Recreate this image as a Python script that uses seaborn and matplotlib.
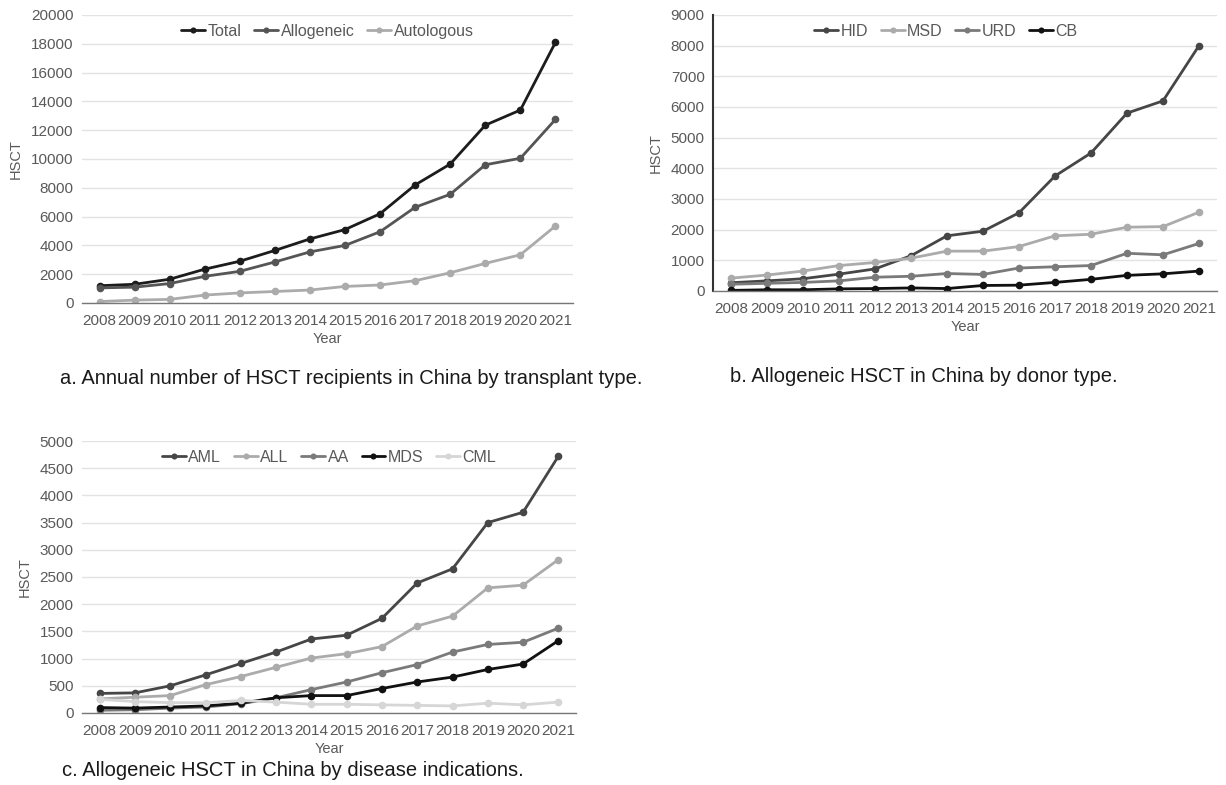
import numpy as np
import pandas as pd
import matplotlib
matplotlib.use("Agg")
import matplotlib.pyplot as plt
from matplotlib.ticker import FixedLocator
import seaborn as sns

years = list(range(2008, 2022))

# a. transplant type
total = [1200, 1300, 1650, 2350, 2900, 3650, 4450, 5100, 6200, 8200, 9650, 12350, 13400, 18100]
allogeneic = [1050, 1100, 1350, 1850, 2200, 2850, 3550, 4000, 4950, 6650, 7550, 9600, 10050, 12750]
autologous = [100, 200, 250, 550, 700, 800, 900, 1150, 1250, 1550, 2100, 2750, 3350, 5350]

# b. donor type
hid = [270, 330, 400, 550, 720, 1150, 1800, 1950, 2550, 3750, 4500, 5800, 6200, 8000]
msd = [420, 520, 650, 830, 930, 1070, 1300, 1300, 1450, 1800, 1850, 2080, 2100, 2570]
urd = [220, 250, 280, 330, 450, 480, 570, 540, 750, 790, 830, 1230, 1180, 1550]
cb = [20, 40, 40, 70, 80, 100, 80, 180, 190, 280, 380, 510, 560, 650]

# c. disease indications
aml = [360, 370, 500, 700, 910, 1120, 1360, 1430, 1740, 2390, 2650, 3500, 3690, 4720]
all_ = [260, 290, 320, 520, 670, 840, 1010, 1090, 1220, 1600, 1780, 2300, 2350, 2820]
aa = [50, 60, 90, 110, 170, 280, 430, 570, 740, 890, 1120, 1260, 1300, 1560]
mds = [100, 90, 110, 130, 180, 280, 320, 320, 450, 570, 660, 800, 900, 1330]
cml = [250, 210, 190, 190, 230, 200, 160, 160, 150, 140, 130, 180, 150, 200]

sns.set_theme(style="white")
plt.rcParams["font.family"] = ["Liberation Sans", "DejaVu Sans"]

TXT = "#595959"


def long_frame(series):
    rows = []
    for name, vals in series.items():
        for y, v in zip(years, vals):
            rows.append({"Year": y, "HSCT": v, "Series": name})
    return pd.DataFrame(rows)


def draw(ax, series, colors, ymax, ystep, left_spine=False, fs=11, leg_x=0.5):
    df = long_frame(series)
    names = list(series.keys())
    sns.lineplot(data=df, x="Year", y="HSCT", hue="Series", hue_order=names,
                 palette=dict(zip(names, colors)), marker="o", markersize=5.5,
                 markeredgewidth=0, linewidth=2, ax=ax)
    ax.set_xlim(2007.5, 2021.5)
    ax.set_ylim(0, ymax)
    ax.set_xticks(years)
    ax.set_xticklabels([str(y) for y in years])
    ax.xaxis.set_minor_locator(FixedLocator(np.arange(2007.5, 2022, 1.0)))
    ax.tick_params(axis="x", which="major", length=0, pad=8, labelsize=fs, labelcolor=TXT)
    ax.tick_params(axis="x", which="minor", length=5, width=1, color="#777777", direction="out")
    ax.set_yticks(np.arange(0, ymax + 1, ystep))
    ax.tick_params(axis="y", length=0, pad=6, labelsize=fs, labelcolor=TXT)
    ax.grid(axis="y", color="#e3e3e3", linewidth=1)
    ax.set_axisbelow(True)
    for s in ["top", "right"]:
        ax.spines[s].set_visible(False)
    ax.spines["left"].set_visible(left_spine)
    if left_spine:
        ax.spines["left"].set_color("#333333")
        ax.spines["left"].set_linewidth(1.5)
    ax.spines["bottom"].set_color("#777777")
    ax.spines["bottom"].set_linewidth(1)
    ax.set_xlabel("Year", color=TXT, fontsize=10.5, labelpad=3)
    ax.set_ylabel("HSCT", color=TXT, fontsize=10.5, labelpad=6)
    leg = ax.legend(loc="upper center", bbox_to_anchor=(leg_x, 1.02), ncol=len(names),
                    frameon=False, fontsize=fs + 0.5, handlelength=1.5, handletextpad=0.15,
                    columnspacing=0.8, labelcolor=TXT, markerscale=0.8)
    return leg


fig = plt.figure(figsize=(12.26, 7.85), dpi=100)
W, H = 1226, 785


def axes_px(l, r, t, b):
    return fig.add_axes([l / W, (H - b) / H, (r - l) / W, (b - t) / H])


ax_a = axes_px(82, 573, 15, 303)
draw(ax_a, {"Total": total, "Allogeneic": allogeneic, "Autologous": autologous},
     ["#1c1c1c", "#555555", "#ababab"], 20000, 2000)

ax_b = axes_px(713, 1217, 15, 291)
draw(ax_b, {"HID": hid, "MSD": msd, "URD": urd, "CB": cb},
     ["#464646", "#ababab", "#7a7a7a", "#111111"], 9000, 1000, left_spine=True,
     leg_x=0.462)

ax_c = axes_px(82, 576, 441, 713)
draw(ax_c, {"AML": aml, "ALL": all_, "AA": aa, "MDS": mds, "CML": cml},
     ["#464646", "#ababab", "#7a7a7a", "#111111", "#d6d6d6"], 5000, 500)

cap = dict(fontsize=14.5, color="#1a1a1a", ha="left", va="center")
fig.text(60 / W, 1 - 378 / H, "a. Annual number of HSCT recipients in China by transplant type.", **cap)
fig.text(730 / W, 1 - 377 / H, "b. Allogeneic HSCT in China by donor type.", **cap)
fig.text(62 / W, 1 - 770 / H, "c. Allogeneic HSCT in China by disease indications.", **cap)

fig.savefig("out.png", dpi=100)
